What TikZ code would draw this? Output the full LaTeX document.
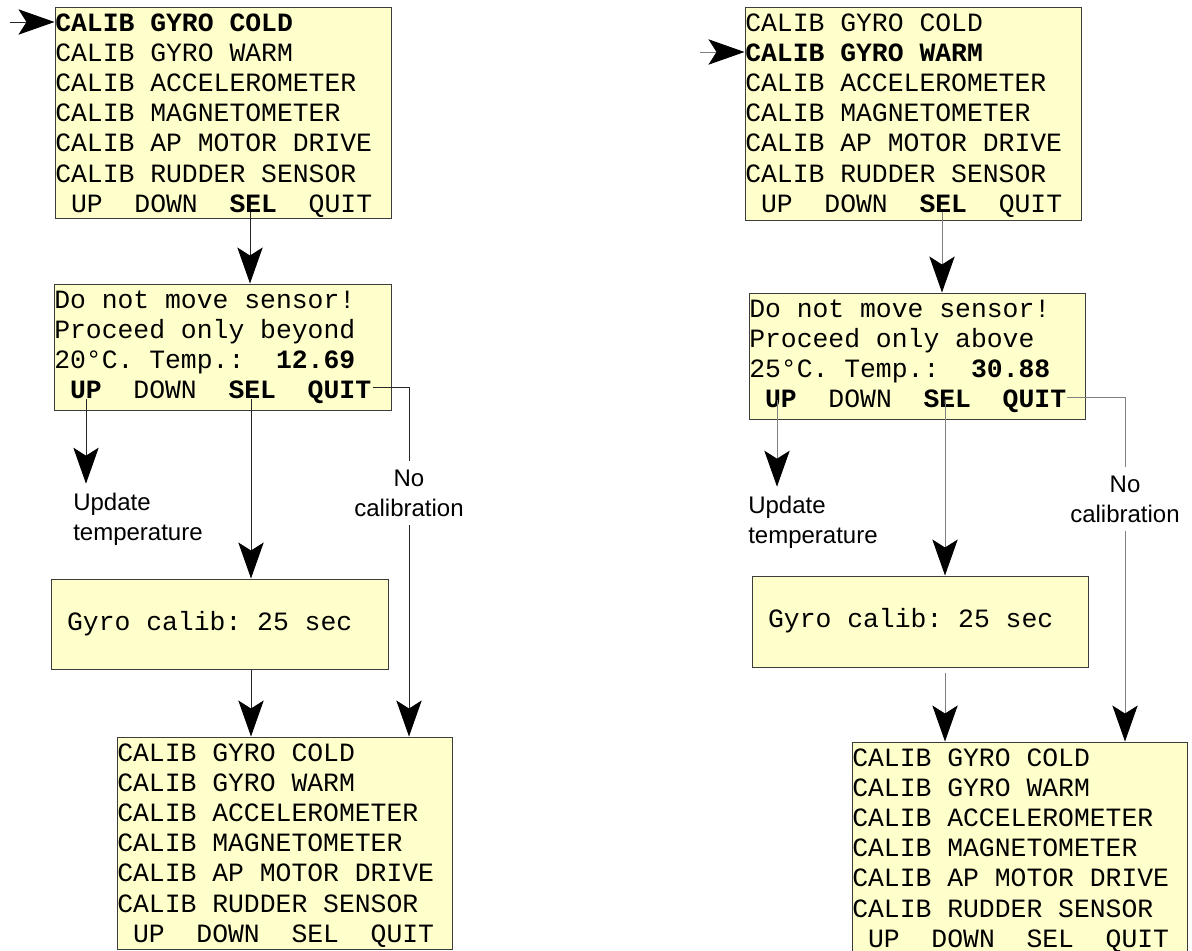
\documentclass[tikz,border=0pt]{standalone}
\usepackage{fontspec}
\setmainfont{Liberation Sans}
\newfontfamily\lcdface{Liberation Mono}
\usepackage{tikz}
\usetikzlibrary{arrows.meta,calc,positioning,fit}
\definecolor{lcdback}{HTML}{FFFFCC}
\definecolor{lcdedge}{HTML}{3C3C3C}
% one character cell of the display font
\newcommand{\ws}{\hphantom{0}}
\tikzset{
    %Define style for the displays
    screen/.style={
        rectangle,
        draw=lcdedge,
        fill=lcdback,
        line width=0.75pt,
        inner sep=0pt,
    },
    lcd/.style={
        anchor=base west,
        inner sep=0pt,
        text width=250pt,
        align=left,
        font=\lcdface\fontsize{19.8}{22.65}\selectfont,
    },
    txt/.style={
        draw=none,
        anchor=base,
        inner xsep=0pt,
        inner ysep=6.5pt,
        text width=110pt,
        align=center,
        font=\fontsize{18}{22.5}\selectfont,
    },
    wire/.style={
        draw=black!85,
        line width=0.75pt,
    },
    flow/.style={
        wire,
        -{Stealth[length=27pt,width=19pt,inset=6pt,color=black]},
    },
    greywire/.style={wire, draw=black!50},
    greyflow/.style={flow, draw=black!50},
}

\begin{document}
\begin{tikzpicture}[x=0.75pt,y=-0.75pt]
    \clip (0,0) rectangle (1192,950);

    % cold gyro
    \node[screen, fit={(55,7) (391,218)}] (m1) {};
    \node[lcd, shift={(0.5,24.5)}] (t1) at (m1.north west) {\textbf{CALIB\ws GYRO\ws COLD}\\CALIB\ws GYRO\ws WARM\\CALIB\ws ACCELEROMETER\\CALIB\ws MAGNETOMETER\\CALIB\ws AP\ws MOTOR\ws DRIVE\\CALIB\ws RUDDER\ws SENSOR\\\ws UP\ws\ws DOWN\ws\ws\textbf{SEL}\ws\ws QUIT};
    \node[screen, fit={(54,284) (391,410)}] (m2) {};
    \node[lcd, shift={(0.5,24.5)}] (t2) at (m2.north west) {Do\ws not\ws move\ws sensor!\\Proceed\ws only\ws beyond\\20°C.\ws Temp.:\ws\ws\textbf{12.69}\\\ws\textbf{UP}\ws\ws DOWN\ws\ws\textbf{SEL}\ws\ws\textbf{QUIT}};
    \node[screen, fit={(51,579) (388,669)}] (m3) {};
    \node[lcd, shift={(0.5,52)}] (t3) at (m3.north west) {\ws Gyro\ws calib:\ws 25\ws sec};
    \node[screen, fit={(117,737) (452,949)}] (m4) {};
    \node[lcd, shift={(0.5,24.5)}] (t4) at (m4.north west) {CALIB\ws GYRO\ws COLD\\CALIB\ws GYRO\ws WARM\\CALIB\ws ACCELEROMETER\\CALIB\ws MAGNETOMETER\\CALIB\ws AP\ws MOTOR\ws DRIVE\\CALIB\ws RUDDER\ws SENSOR\\\ws UP\ws\ws DOWN\ws\ws SEL\ws\ws QUIT};

    \node[txt, anchor=base west, align=left] (updL) at (73,510) {Update\\temperature};
    \node[txt] (noL) at (409,486) {No\\calibration};

    \coordinate (inL) at (10,22);
    \coordinate (selL1) at (250,212);
    \coordinate (upL) at (86,399);
    \coordinate (selL2) at (251,399);
    \coordinate (quitL) at (373,387);

    \draw[flow] (inL) -- (inL -| m1.west);
    \draw[flow] (selL1) -- (selL1 |- m2.north);
    \draw[flow] (upL) -- (upL |- updL.north);
    \draw[flow] (selL2) -- (selL2 |- m3.north);
    \draw[wire] (quitL) -| (noL.north);
    \draw[flow] (noL.south) -- (noL.south |- m4.north);
    \draw[flow] (selL2 |- m3.south) -- (selL2 |- m4.north);

    % warm gyro
    \node[screen, fit={(745,7) (1081,220)}] (m5) {};
    \node[lcd, shift={(0.5,24.5)}] (t5) at (m5.north west) {CALIB\ws GYRO\ws COLD\\\textbf{CALIB\ws GYRO\ws WARM}\\CALIB\ws ACCELEROMETER\\CALIB\ws MAGNETOMETER\\CALIB\ws AP\ws MOTOR\ws DRIVE\\CALIB\ws RUDDER\ws SENSOR\\\ws UP\ws\ws DOWN\ws\ws\textbf{SEL}\ws\ws QUIT};
    \node[screen, fit={(749,293) (1085,419)}] (m6) {};
    \node[lcd, shift={(0.5,24.5)}] (t6) at (m6.north west) {Do\ws not\ws move\ws sensor!\\Proceed\ws only\ws above\\25°C.\ws Temp.:\ws\ws\textbf{30.88}\\\ws\textbf{UP}\ws\ws DOWN\ws\ws\textbf{SEL}\ws\ws\textbf{QUIT}};
    \node[screen, fit={(752,576) (1088,667)}] (m7) {};
    \node[lcd, shift={(0.5,52)}] (t7) at (m7.north west) {\ws Gyro\ws calib:\ws 25\ws sec};
    \node[screen, fit={(852,742) (1187,954)}] (m8) {};
    \node[lcd, shift={(0.5,24.5)}] (t8) at (m8.north west) {CALIB\ws GYRO\ws COLD\\CALIB\ws GYRO\ws WARM\\CALIB\ws ACCELEROMETER\\CALIB\ws MAGNETOMETER\\CALIB\ws AP\ws MOTOR\ws DRIVE\\CALIB\ws RUDDER\ws SENSOR\\\ws UP\ws\ws DOWN\ws\ws SEL\ws\ws QUIT};

    \node[txt, anchor=base west, align=left] (updR) at (748,513) {Update\\temperature};
    \node[txt] (noR) at (1125,492) {No\\calibration};

    \coordinate (inR) at (700,52);
    \coordinate (selR1) at (942,212);
    \coordinate (upR) at (777,400);
    \coordinate (selR2) at (945,400);
    \coordinate (quitR) at (1067,397);
    \coordinate (gapR) at (945,673);

    \draw[greyflow] (inR) -- (inR -| m5.west);
    \draw[greyflow] (selR1) -- (selR1 |- m6.north);
    \draw[greyflow] (upR) -- (upR |- updR.north);
    \draw[greyflow] (selR2) -- (selR2 |- m7.north);
    \draw[greywire] (quitR) -| (noR.north);
    \draw[greyflow] (noR.south) -- (noR.south |- m8.north);
    \draw[greyflow] (gapR) -- (gapR |- m8.north);
\end{tikzpicture}
\end{document}
